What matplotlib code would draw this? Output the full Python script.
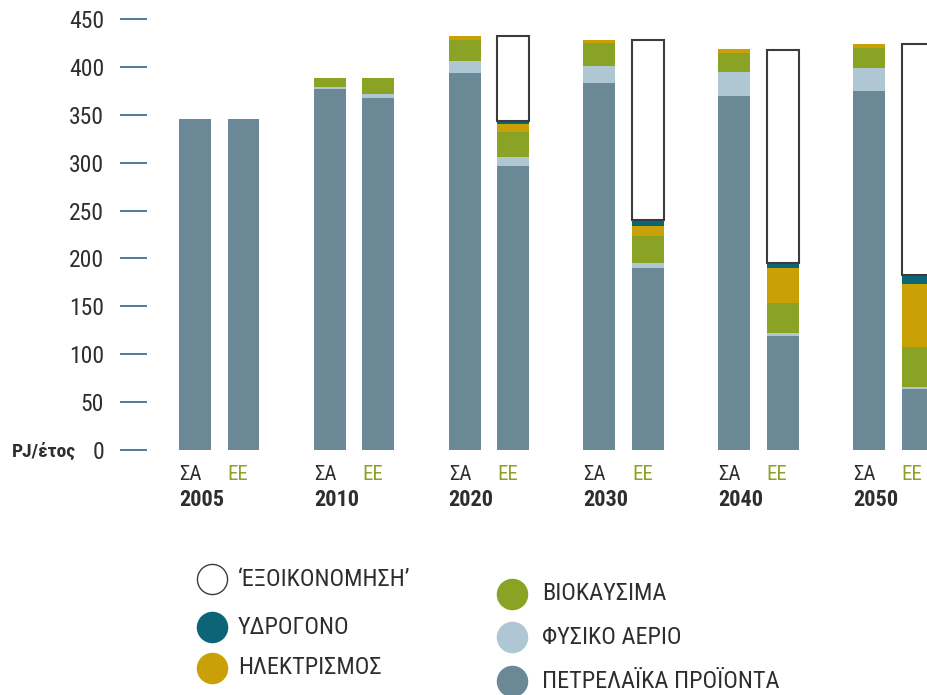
import matplotlib.pyplot as plt
import numpy as np
from matplotlib import font_manager

names = {f.name for f in font_manager.fontManager.ttflist}
prefs = ['Roboto Condensed', 'Fira Sans Condensed', 'Open Sans Condensed',
         'Noto Sans Condensed', 'IBM Plex Sans Condensed', 'Liberation Sans Narrow',
         'Roboto', 'Liberation Sans']
cond = next(n for n in prefs + ['DejaVu Sans'] if n in names)
plt.rcParams['font.family'] = [cond, 'DejaVu Sans']

years = ['2005', '2010', '2020', '2030', '2040', '2050']

# ΣΑ (reference scenario)
oil_sa = [346, 377, 394, 383, 370, 375]
gas_sa = [0, 2, 12, 18, 25, 24]
bio_sa = [0, 9, 22, 24, 20, 21]
elec_sa = [0, 0, 4, 3.5, 4, 4]
h2_sa = [0, 0, 0, 0, 0, 0]

# ΕΕ (energy-efficiency scenario)
oil_ee = [346, 368, 296, 190, 119, 64]
gas_ee = [0, 4, 10, 5, 3, 2]
bio_ee = [0, 16, 26, 28, 32, 42]
elec_ee = [0, 0, 8, 11, 36, 65]
h2_ee = [0, 0, 3.5, 6, 5, 10]
save_ee = [0, 0, 89, 188, 223, 241]

labels = ['‘ΕΞΟΙΚΟΝΟΜΗΣΗ’', 'ΥΔΡΟΓΟΝΟ', 'ΗΛΕΚΤΡΙΣΜΟΣ',
          'ΒΙΟΚΑΥΣΙΜΑ', 'ΦΥΣΙΚΟ ΑΕΡΙΟ', 'ΠΕΤΡΕΛΑΪΚΑ ΠΡΟΪΟΝΤΑ']

c_oil = '#6b8896'
c_gas = '#aec7d3'
c_bio = '#8ba324'
c_elec = '#c9a106'
c_h2 = '#0c6577'
c_edge = '#3c3c3c'
c_text = '#2e2e2e'

fig = plt.figure(figsize=(9.27, 6.95), dpi=100)
ax = fig.add_axes([147 / 927, 245 / 695, 780 / 927, 431 / 695])

x = np.arange(len(years))
w = 0.237
off = 0.18

def stack(xpos, parts, colors):
    bottom = np.zeros(len(years))
    for vals, col in zip(parts, colors):
        vals = np.array(vals, dtype=float)
        ax.bar(xpos, vals, w, bottom=bottom, color=col, linewidth=0)
        bottom += vals
    return bottom

stack(x - off, [oil_sa, gas_sa, bio_sa, elec_sa, h2_sa],
      [c_oil, c_gas, c_bio, c_elec, c_h2])
top = stack(x + off, [oil_ee, gas_ee, bio_ee, elec_ee, h2_ee],
            [c_oil, c_gas, c_bio, c_elec, c_h2])
sv = np.array(save_ee, dtype=float)
m = sv > 0
ax.bar((x + off)[m], sv[m], w, bottom=top[m], color='white',
       edgecolor=c_edge, linewidth=1.5)

ax.set_xlim(-0.536, 5.25)
ax.set_ylim(0, 450)
for s in ax.spines.values():
    s.set_visible(False)
ax.set_xticks([])
ax.set_yticks(np.arange(0, 451, 50))
ax.tick_params(axis='y', length=19.4, width=1.4, color='#4f7a99',
               pad=11.5, labelsize=17, labelcolor=c_text)

trans = ax.get_xaxis_transform()
for i, yr in enumerate(years):
    ax.text(x[i] - off - w / 2, -0.056, 'ΣΑ', transform=trans, ha='left',
            va='center', fontsize=15, color=c_text)
    ax.text(x[i] + off - w / 2, -0.056, 'ΕΕ', transform=trans, ha='left',
            va='center', fontsize=15, color=c_bio)
    ax.text(x[i] - off - w / 2, -0.116, yr, transform=trans, ha='left',
            va='center', fontsize=16, color=c_text, fontweight='bold')

fig.text(76 / 927, 1 - 452 / 695, 'PJ/έτος', ha='right', va='center',
         fontsize=14, fontweight='bold', color=c_text)

# legend drawn in pixel space
lg = fig.add_axes([0, 0, 1, 1])
lg.set_xlim(0, 927)
lg.set_ylim(695, 0)
lg.axis('off')
pos = [(212, 579), (212, 627), (212, 668), (512, 594), (512, 637), (512, 681)]
gaps = [26, 26, 26, 30, 30, 30]
fills = ['white', c_h2, c_elec, c_bio, c_gas, c_oil]
for (px, py), g, f, lab in zip(pos, gaps, fills, labels):
    lg.scatter([px], [py], s=470, facecolor=f,
               edgecolor=c_edge if f == 'white' else f, linewidth=1.0)
    lg.text(px + g, py, lab, ha='left', va='center', fontsize=17.5, color=c_text)

fig.savefig('out.png', dpi=100)
